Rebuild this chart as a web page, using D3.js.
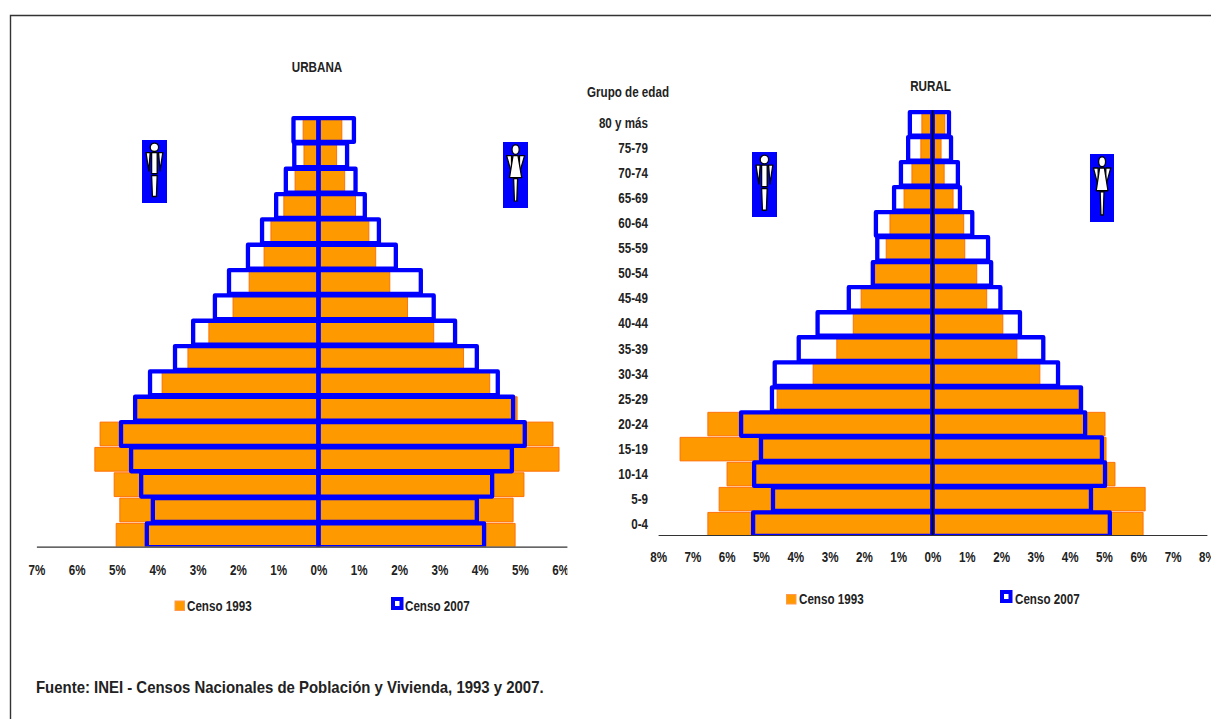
<!DOCTYPE html>
<html lang="es">
<head>
<meta charset="utf-8">
<script src="https://cdn.jsdelivr.net/npm/d3@7"></script>
<style>
html,body{margin:0;padding:0;background:#fff;overflow:hidden}
svg{display:block}
text{font-family:"Liberation Sans",Arial,sans-serif;font-weight:700;font-size:14px;fill:#222}
</style>
</head>
<body>
<svg id="c" width="1211" height="719"></svg>
<script>
const ageGroups = ["80 y más","75-79","70-74","65-69","60-64","55-59","50-54","45-49","40-44","35-39","30-34","25-29","20-24","15-19","10-14","5-9","0-4"];

const urbanMale1993   = [0.38,0.36,0.58,0.86,1.18,1.35,1.72,2.12,2.72,3.24,3.88,4.55,5.42,5.55,5.07,4.93,5.02];
const urbanMale2007   = [0.62,0.60,0.81,1.05,1.40,1.75,2.22,2.57,3.11,3.56,4.18,4.55,4.90,4.65,4.40,4.11,4.26];
const urbanFemale1993 = [0.58,0.45,0.65,0.92,1.25,1.42,1.77,2.21,2.86,3.60,4.25,4.93,5.82,5.97,5.10,4.83,4.88];
const urbanFemale2007 = [0.88,0.71,0.92,1.15,1.50,1.92,2.54,2.86,3.39,3.93,4.45,4.83,5.12,4.80,4.31,3.93,4.11];

const ruralMale1993   = [0.31,0.34,0.60,0.83,1.24,1.35,1.67,2.08,2.31,2.79,3.48,4.53,6.55,7.36,5.99,6.22,6.55];
const ruralMale2007   = [0.66,0.71,0.92,1.12,1.65,1.61,1.74,2.44,3.35,3.90,4.60,4.68,5.58,5.00,5.20,4.65,5.23];
const ruralFemale1993 = [0.36,0.25,0.34,0.60,0.91,0.94,1.29,1.58,2.05,2.46,3.13,4.27,5.03,5.06,5.32,6.20,6.14];
const ruralFemale2007 = [0.48,0.54,0.74,0.80,1.16,1.62,1.71,1.98,2.55,3.23,3.66,4.33,4.45,4.94,5.03,4.62,5.17];

const urbanTicks = [-7,-6,-5,-4,-3,-2,-1,0,1,2,3,4,5,6];
const ruralTicks = [-8,-7,-6,-5,-4,-3,-2,-1,0,1,2,3,4,5,6,7,8];

const ORANGE = "#ff9900", ORANGE_EDGE = "#ff6a00", BLUE = "#0000ff";
const svg = d3.select("#c");

svg.append("path").attr("d","M10.5,719V15.5H1211").attr("fill","none").attr("stroke","#333").attr("stroke-width",1.4);

const defs = svg.append("defs");
function pyramid(id, o){
  const x = d3.scaleLinear().domain(o.domain).range(o.xr);
  const y = d3.scaleBand().domain(ageGroups).range(o.yr).paddingInner(0.06).paddingOuter(0.03);
  const g = svg.append("g").attr("id",id);
  defs.append("clipPath").attr("id",id+"-clip").append("rect")
    .attr("x",0).attr("y",0).attr("width",1211).attr("height",o.base);
  const plot = g.append("g").attr("clip-path",`url(#${id}-clip)`);
  function bars(vals,sign,fill,stroke,sw){
    plot.append("g").selectAll("rect").data(vals).join("rect")
      .attr("x",(d)=> sign<0 ? x(-d) : x(0))
      .attr("width",d=>Math.abs(x(d)-x(0)))
      .attr("y",(d,i)=>y(ageGroups[i]))
      .attr("height",y.bandwidth())
      .attr("fill",fill).attr("stroke",stroke).attr("stroke-width",sw).attr("stroke-linejoin","round");
  }
  bars(o.m93,-1,ORANGE,ORANGE_EDGE,0.9);
  bars(o.f93,1,ORANGE,ORANGE_EDGE,0.9);
  bars(o.m07,-1,"none",BLUE,4.3);
  bars(o.f07,1,"none",BLUE,4.3);

  if(o.centerLine){
    g.append("line").attr("x1",x(0)).attr("x2",x(0)).attr("y1",o.yr[0]-1).attr("y2",o.base)
      .attr("stroke","#000").attr("stroke-width",1.6);
  }
  const ax = d3.axisBottom(x).tickValues(o.ticks).tickSize(0).tickPadding(o.tickPad)
    .tickFormat(d=>Math.abs(d)+"%");
  defs.append("clipPath").attr("id",id+"-axclip").append("rect")
    .attr("x",o.xr[0]-25).attr("y",-5).attr("width",o.clipW).attr("height",60);
  const axg = g.append("g").attr("transform",`translate(0,${o.base})`).call(ax);
  axg.select(".domain").attr("stroke","#333").attr("stroke-width",1.2);
  axg.attr("font-family",null).attr("font-size",null);
  axg.attr("clip-path",`url(#${id}-axclip)`);
  return {x,y};
}

pyramid("urbana",{domain:[-7,6.2],xr:[36.4,568.3],yr:[117.3,548],base:546.6,ticks:urbanTicks,tickPad:18.4,clipW:556,
  m93:urbanMale1993,m07:urbanMale2007,f93:urbanFemale1993,f07:urbanFemale2007,centerLine:false});
const rural = pyramid("rural",{domain:[-8,8],xr:[658.1,1206.9],yr:[111.3,536.7],base:535,ticks:ruralTicks,tickPad:17,clipW:600,
  m93:ruralMale1993,m07:ruralMale2007,f93:ruralFemale1993,f07:ruralFemale2007,centerLine:true});

const ageAxis = d3.axisRight(rural.y).tickSize(0).tickPadding(0);
const ageG = svg.append("g").attr("transform","translate(648,0)").call(ageAxis);
ageG.select(".domain").remove();
ageG.attr("font-family",null).attr("font-size",null);
ageG.selectAll("text").attr("text-anchor","end").attr("x",0);

function label(txt,x,y,anchor,size){
  return svg.append("text").text(txt).attr("x",x).attr("y",y).attr("text-anchor",anchor||"start")
    .attr("dominant-baseline","central").style("font-size",(size||14)+"px");
}
label("URBANA",317,67,"middle");
label("RURAL",930.5,86,"middle");
label("Grupo de edad",628,92,"middle");
label("Censo 1993",187,606);
label("Censo 2007",405,606);
label("Censo 1993",799,599);
label("Censo 2007",1015,599);
label("Fuente: INEI - Censos Nacionales de Población y Vivienda, 1993 y 2007.",36,687,"start",16.5).classed("src",true);

// condense all text: the reference uses a narrow bold face
svg.selectAll("text").each(function(){
  const k = this.classList.contains("src") ? 0.905 : 0.83;
  d3.select(this).attr("lengthAdjust","spacingAndGlyphs")
    .attr("textLength",(this.getComputedTextLength()*k).toFixed(1));
});

function swatchOld(x,y){
  svg.append("rect").attr("x",x+.5).attr("y",y+.5).attr("width",9.5).attr("height",9.5)
    .attr("fill",ORANGE).attr("stroke","#ff9a50").attr("stroke-width",1);
}
function swatchNew(x,y){
  svg.append("rect").attr("x",x+2).attr("y",y+2).attr("width",8.5).attr("height",9)
    .attr("fill","#fff").attr("stroke",BLUE).attr("stroke-width",4);
}
swatchOld(174.5,600.5); swatchNew(391,597);
swatchOld(786,594); swatchNew(1000,590);

function icon(x,y,w,h,female){
  const g = svg.append("g").attr("transform",`translate(${x},${y})`);
  g.append("rect").attr("width",w).attr("height",h).attr("fill",BLUE);
  const f = g.append("g").attr("transform",`scale(${w/25},${h/63})`)
    .attr("fill","#fff").attr("stroke","#000").attr("stroke-width",1.3).attr("stroke-linejoin","round");
  if(female){
    f.append("path").attr("d","M3.6,13H8.5L8.6,30Z");
    f.append("path").attr("d","M21.6,13H16.5L16.4,30Z");
    f.append("path").attr("d","M10,13H15L18.7,34H6.5Z");
    f.append("ellipse").attr("cx",12.6).attr("cy",7.2).attr("rx",3.6).attr("ry",4.6);
    f.append("path").attr("d","M10.6,35H14.6L13.8,56.5H11.4Z");
  }else{
    f.append("circle").attr("cx",12.4).attr("cy",7.3).attr("r",4.2);
    f.append("path").attr("d","M4,12.7H8.2L6.8,31Z");
    f.append("path").attr("d","M20.8,12.7H16.6L18,31Z");
    f.append("rect").attr("x",9.6).attr("y",12.7).attr("width",5.6).attr("height",21);
    f.append("path").attr("d","M9.6,35.5H15.2L14.4,56.5H10.4Z");
  }
}
icon(142,140,25,63,false);
icon(503,142,25,66,true);
icon(752,152,25,65,false);
icon(1090,154,24,68,true);
</script>
</body>
</html>
